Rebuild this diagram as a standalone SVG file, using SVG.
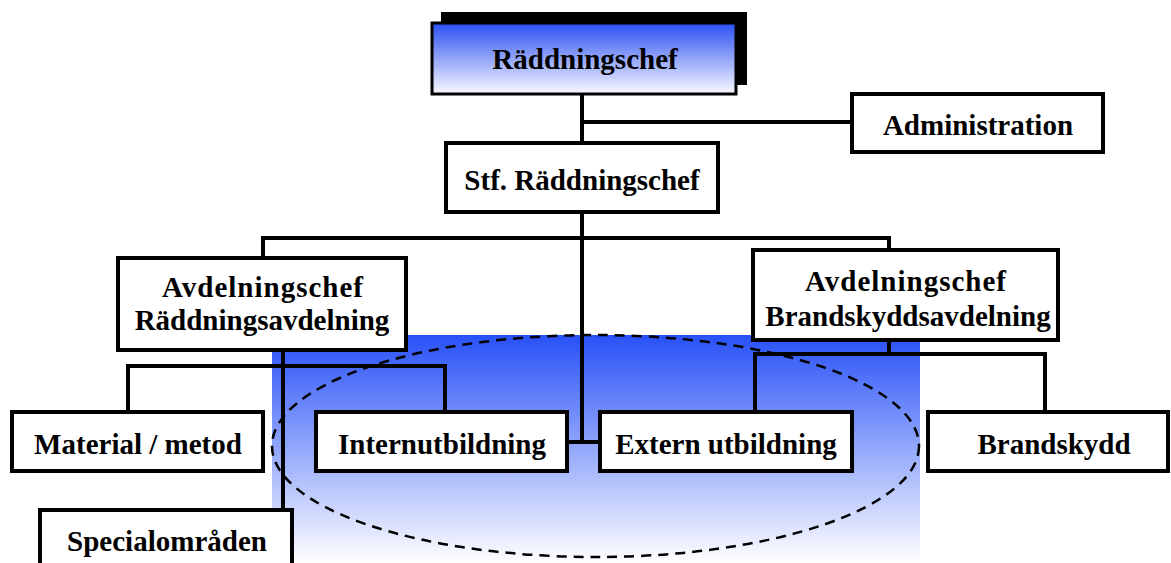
<svg xmlns="http://www.w3.org/2000/svg" width="1171" height="563" viewBox="0 0 1171 563">
<defs>
<linearGradient id="gBg" x1="0" y1="0" x2="0" y2="1">
<stop offset="0" stop-color="#2851f7"/>
<stop offset="1" stop-color="#ffffff"/>
</linearGradient>
<linearGradient id="gTop" x1="0" y1="0" x2="0" y2="1">
<stop offset="0" stop-color="#2a4ff2"/>
<stop offset="1" stop-color="#fafaff"/>
</linearGradient>
</defs>
<style>
.box{fill:#ffffff;stroke:#000000;stroke-width:4}
.ln{fill:none;stroke:#000000;stroke-width:4}
.t{font-family:"Liberation Serif","Times New Roman",serif;font-weight:bold;font-size:29px;fill:#000000;text-anchor:middle}
</style>
<rect x="272" y="335" width="648" height="228" fill="url(#gBg)"/>
<g id="connectors">
<path class="ln" d="M582 94V143M582 122H852"/>
<path class="ln" d="M582 212V442M567 442H600"/>
<path class="ln" d="M263 258V238H889V250"/>
<path class="ln" d="M283 350V510M128 412V366H445V412"/>
<path class="ln" d="M889 340V354M755 412V354H1045V412"/>
</g>
<ellipse cx="595.5" cy="446" rx="323.5" ry="111" fill="none" stroke="#000" stroke-width="2.5" stroke-dasharray="10 7"/>
<g id="raddningschef">
<rect x="441" y="12" width="306" height="73" fill="#000"/>
<rect x="432" y="23" width="304" height="71" fill="url(#gTop)" stroke="#000" stroke-width="3"/>
<text class="t" x="585" y="69">Räddningschef</text>
</g>
<g id="administration">
<rect class="box" x="852" y="94" width="251" height="58"/>
<text class="t" x="978" y="135">Administration</text>
</g>
<g id="stf">
<rect class="box" x="446" y="143" width="272" height="69"/>
<text class="t" x="582" y="190">Stf. Räddningschef</text>
</g>
<g id="avd-radd">
<rect class="box" x="118" y="258" width="288" height="92"/>
<text class="t" x="263" y="297" letter-spacing="1">Avdelningschef</text>
<text class="t" x="262" y="330">Räddningsavdelning</text>
</g>
<g id="avd-brand">
<rect class="box" x="753" y="250" width="305" height="90"/>
<text class="t" x="906" y="291" letter-spacing="1">Avdelningschef</text>
<text class="t" x="908" y="326">Brandskyddsavdelning</text>
</g>
<g id="material">
<rect class="box" x="12" y="412" width="251" height="59"/>
<text class="t" x="138" y="454">Material / metod</text>
</g>
<g id="intern">
<rect class="box" x="316" y="412" width="251" height="59"/>
<text class="t" x="442" y="454">Internutbildning</text>
</g>
<g id="extern">
<rect class="box" x="600" y="412" width="252" height="59"/>
<text class="t" x="726" y="454">Extern utbildning</text>
</g>
<g id="brandskydd">
<rect class="box" x="928" y="412" width="240" height="59"/>
<text class="t" x="1054" y="454">Brandskydd</text>
</g>
<g id="special">
<rect class="box" x="40" y="510" width="252" height="60"/>
<text class="t" x="167" y="551">Specialområden</text>
</g>
</svg>
